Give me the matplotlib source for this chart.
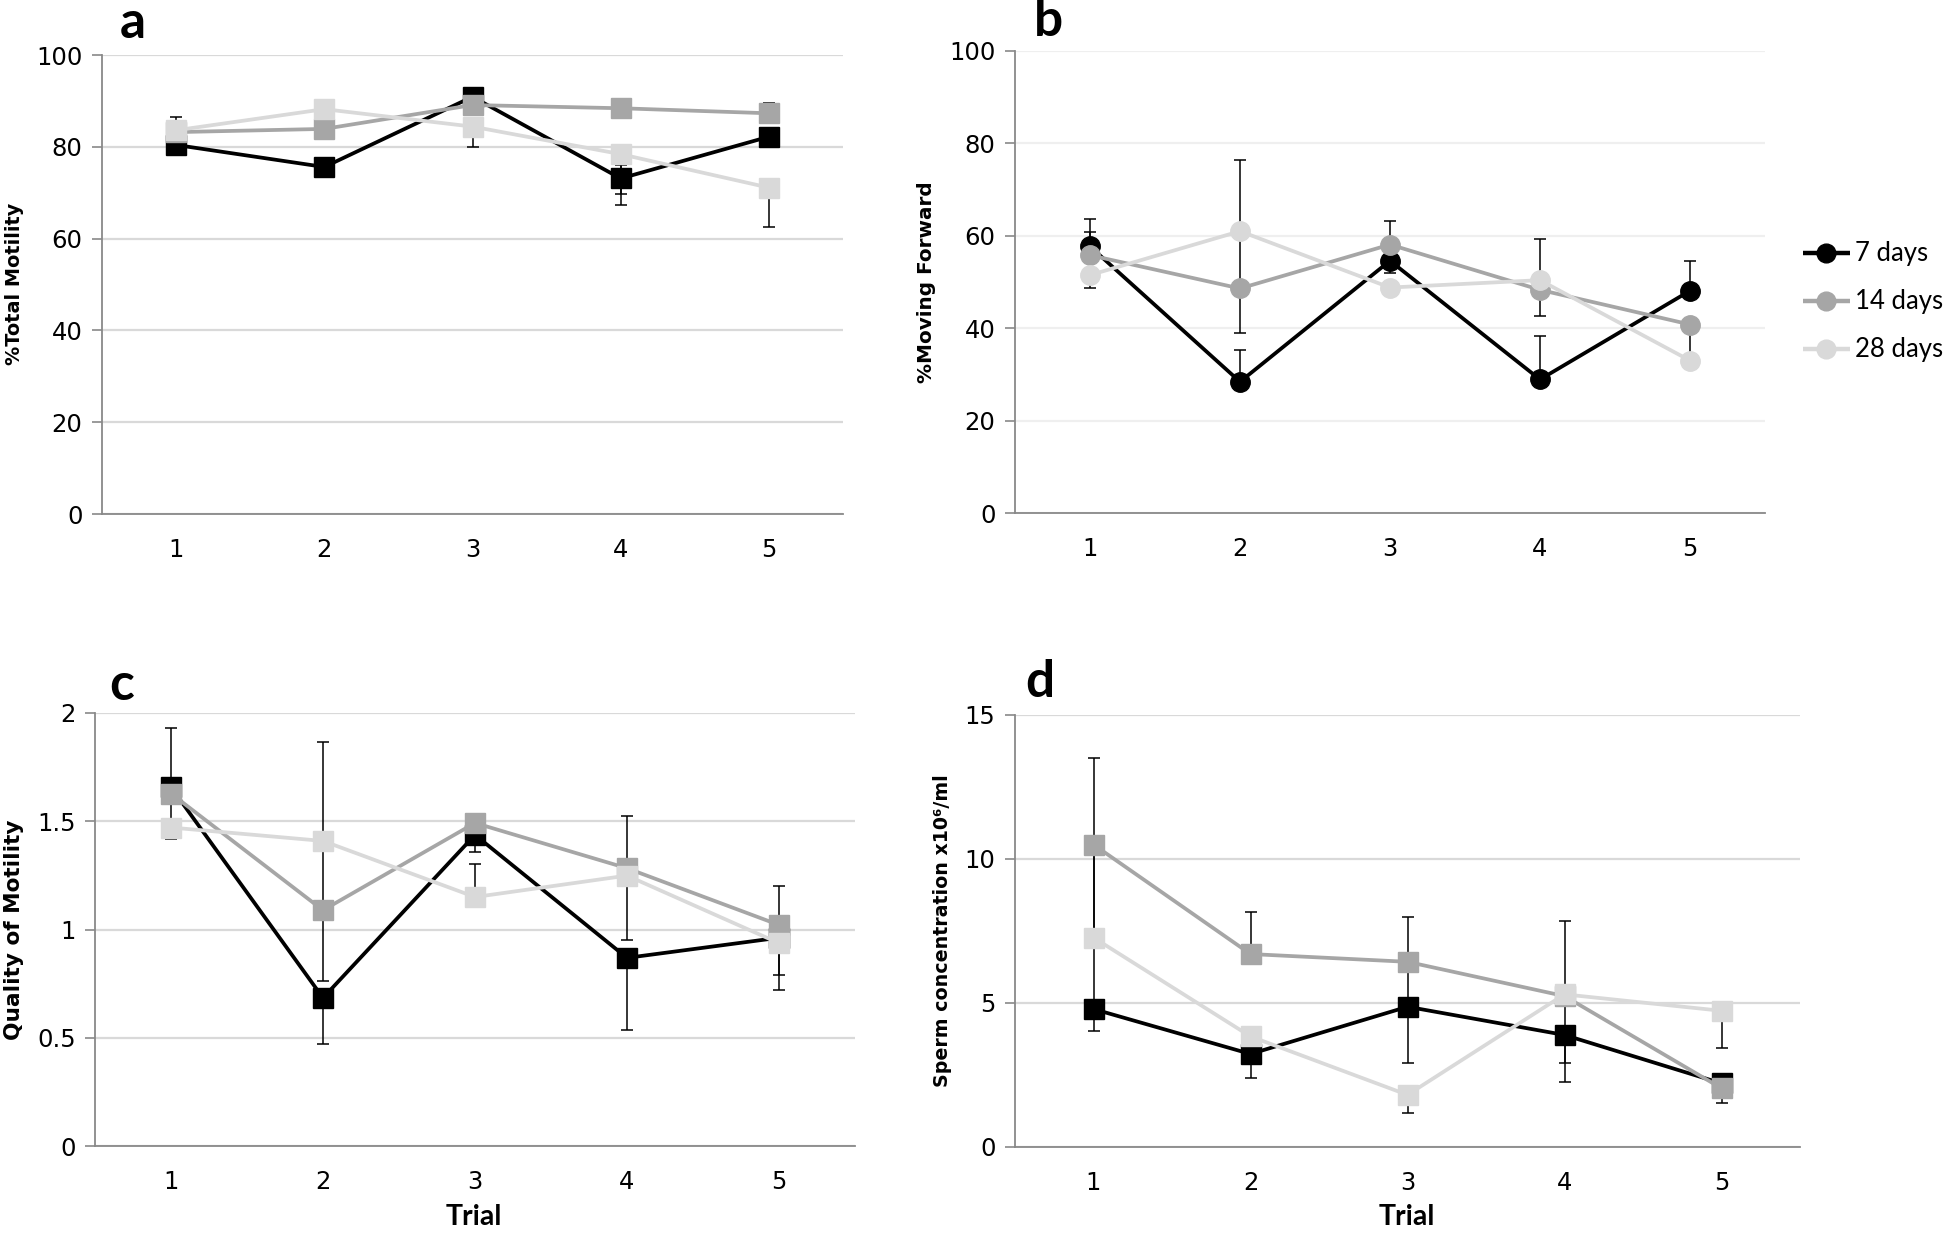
import numpy as np
import matplotlib
matplotlib.use("Agg")
import matplotlib.pyplot as plt
from matplotlib.lines import Line2D
from matplotlib.ticker import FuncFormatter

# data (mean, lower error, upper error)
trials = [1, 2, 3, 4, 5]
series_names = ["7 days", "14 days", "28 days"]

# a - % total motility
motility_7 = [80.4, 75.6, 90.9, 73.1, 82.2]
motility_14 = [83.2, 83.9, 89.1, 88.4, 87.3]
motility_28 = [83.6, 88.2, 84.4, 78.4, 71.1]
motility_7_lo = [0, 0, 0, 5.7, 0]
motility_7_up = [0, 0, 0, 2.9, 0]
motility_14_lo = [0, 0, 0, 0, 0]
motility_14_up = [0, 0, 0, 0, 2.2]
motility_28_lo = [0, 0, 4.4, 8.7, 8.6]
motility_28_up = [2.8, 0, 0, 0, 0]

# b - % moving forward
forward_7 = [57.7, 28.4, 54.6, 28.9, 48.1]
forward_14 = [55.8, 48.6, 58.1, 48.3, 40.8]
forward_28 = [51.5, 61.0, 48.8, 50.4, 33.0]
forward_7_lo = [0, 0, 2.6, 0, 0]
forward_7_up = [5.9, 6.9, 0, 9.4, 6.4]
forward_14_lo = [0, 9.6, 0, 5.6, 7.0]
forward_14_up = [5.1, 12.4, 5.0, 0, 0]
forward_28_lo = [2.7, 0, 0, 0, 0]
forward_28_up = [0, 15.3, 0, 8.8, 0]

# c - quality of motility
quality_7 = [1.657, 0.684, 1.437, 0.869, 0.962]
quality_14 = [1.628, 1.089, 1.492, 1.283, 1.021]
quality_28 = [1.471, 1.409, 1.150, 1.249, 0.937]
quality_7_lo = [0.24, 0.211, 0.077, 0.332, 0.172]
quality_7_up = [0.276, 0, 0, 0, 0]
quality_14_lo = [0, 0.326, 0, 0, 0]
quality_14_up = [0, 0.32, 0, 0.239, 0.18]
quality_28_lo = [0, 0, 0, 0.296, 0.215]
quality_28_up = [0, 0.456, 0.152, 0, 0]

# d - sperm concentration
conc_7 = [4.79, 3.23, 4.87, 3.89, 2.21]
conc_14 = [10.50, 6.70, 6.43, 5.24, 2.04]
conc_28 = [7.27, 3.84, 1.81, 5.30, 4.73]
conc_7_lo = [0, 0.85, 1.97, 0.98, 0]
conc_7_up = [0, 0, 1.6, 0, 0]
conc_14_lo = [3.0, 0, 0, 0, 0.52]
conc_14_up = [3.0, 1.45, 1.57, 0, 0]
conc_28_lo = [3.24, 0, 0.64, 3.03, 1.30]
conc_28_up = [3.24, 0, 0, 2.54, 0]

colors = ["#000000", "#a6a6a6", "#d9d9d9"]
W, H = 1946, 1233


def px_axes(left, top, right, bottom):
    # pixel box -> figure fraction
    return [left / W, 1 - bottom / H, (right - left) / W, (bottom - top) / H]


def fx(x):
    return x / W


def fy(y):
    return 1 - y / H


def draw_panel(ax, values, lows, ups, marker, ymax, ystep, grid_color):
    for i, (v, lo, up) in enumerate(zip(values, lows, ups)):
        ax.errorbar(trials, v, yerr=[lo, up], fmt="none", ecolor="black",
                    elinewidth=1.1, capsize=4.3, capthick=1.1, zorder=1)
        ax.plot(trials, v, color=colors[i], lw=2.7, marker=marker,
                ms=14, mec=colors[i], mfc=colors[i], zorder=2 + i)
    ax.set_xlim(0.5, 5.5)
    ax.set_ylim(0, ymax)
    ax.set_yticks(np.arange(0, ymax + ystep / 2, ystep))
    ax.yaxis.set_major_formatter(FuncFormatter(lambda y, p: f"{y:g}"))
    ax.set_xticks(trials)
    ax.yaxis.grid(True, color=grid_color, lw=1.6, zorder=0)
    ax.set_axisbelow(True)
    for s in ["top", "right"]:
        ax.spines[s].set_visible(False)
    for s in ["left", "bottom"]:
        ax.spines[s].set_color("#898989")
        ax.spines[s].set_linewidth(1.3)
    ax.tick_params(axis="y", length=7, width=1.2, color="#898989", pad=7,
                   labelsize=17.5)
    ax.tick_params(axis="x", length=0, pad=17, labelsize=17.5)


fig = plt.figure(figsize=(W / 100, H / 100), dpi=100)

ax_a = fig.add_axes(px_axes(102, 55, 843, 514))
ax_b = fig.add_axes(px_axes(1015, 51, 1765, 513))
ax_c = fig.add_axes(px_axes(95, 713, 855, 1146))
ax_d = fig.add_axes(px_axes(1015, 715, 1800, 1147))

draw_panel(ax_a, [motility_7, motility_14, motility_28],
           [motility_7_lo, motility_14_lo, motility_28_lo],
           [motility_7_up, motility_14_up, motility_28_up], "s", 100, 20, "#d9d9d9")
draw_panel(ax_b, [forward_7, forward_14, forward_28],
           [forward_7_lo, forward_14_lo, forward_28_lo],
           [forward_7_up, forward_14_up, forward_28_up], "o", 100, 20, "#efefef")
draw_panel(ax_c, [quality_7, quality_14, quality_28],
           [quality_7_lo, quality_14_lo, quality_28_lo],
           [quality_7_up, quality_14_up, quality_28_up], "s", 2, 0.5, "#d9d9d9")
draw_panel(ax_d, [conc_7, conc_14, conc_28],
           [conc_7_lo, conc_14_lo, conc_28_lo],
           [conc_7_up, conc_14_up, conc_28_up], "s", 15, 5, "#d9d9d9")

# y labels, centred on each plot area
ylab = dict(rotation=90, ha="center", va="center", fontweight="bold",
            family="DejaVu Sans")
fig.text(fx(15), fy(284), "%Total Motility", fontsize=13.9, **ylab)
fig.text(fx(927), fy(282), "%Moving Forward", fontsize=14.4, **ylab)
fig.text(fx(14), fy(930), "Quality of Motility", fontsize=15.6, **ylab)
fig.text(fx(943), fy(931), "Sperm concentration x10⁶/ml", fontsize=13.7, **ylab)

# x labels (bottom row only)
for x in [474, 1407]:
    fig.text(fx(x), fy(1217), "Trial", ha="center", va="center",
             fontsize=20.5, fontweight="bold", family=["Lato", "DejaVu Sans"])

# panel letters
for letter, x, y in [("a", 133, 23), ("b", 1048, 22), ("c", 122, 686), ("d", 1040, 683)]:
    fig.text(fx(x), fy(y), letter, ha="center", va="center",
             fontsize=37, fontweight="bold", family=["Lato", "DejaVu Sans"])

# legend on the right, cut by the figure edge
for name, c, y in zip(series_names, colors, [253, 301, 349]):
    fig.add_artist(Line2D([fx(1803), fx(1850)], [fy(y), fy(y)], transform=fig.transFigure,
                          color=c, lw=3.2, solid_capstyle="butt"))
    fig.add_artist(Line2D([fx(1826)], [fy(y)], transform=fig.transFigure, marker="o",
                          ms=13.5, mfc=c, mec=c, lw=0))
    fig.text(fx(1855), fy(y), name, ha="left", va="center", fontsize=18.5,
             family=["Lato", "DejaVu Sans"])

fig.savefig("out.png", dpi=100, facecolor="white")
